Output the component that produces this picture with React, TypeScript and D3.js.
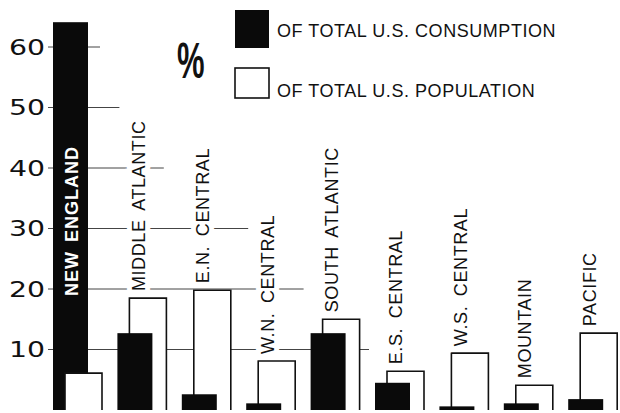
import React from "react";
import * as d3 from "d3";

const categories = [
  "NEW ENGLAND",
  "MIDDLE ATLANTIC",
  "E.N. CENTRAL",
  "W.N. CENTRAL",
  "SOUTH ATLANTIC",
  "E.S. CENTRAL",
  "W.S. CENTRAL",
  "MOUNTAIN",
  "PACIFIC",
];
const consumption = [64.1, 12.7, 2.6, 1.1, 12.7, 4.5, 0.6, 1.1, 1.8];
const population = [6.1, 18.5, 19.8, 8.1, 15.0, 6.4, 9.4, 4.1, 12.7];
const yTicks = [10, 20, 30, 40, 50, 60];
const legendLabels = ["OF TOTAL U.S. CONSUMPTION", "OF TOTAL U.S. POPULATION"];

const W = 620;
const H = 413;

export default function App() {
  const x = d3
    .scaleBand<string>()
    .domain(categories)
    .range([53, 53 + 64.4 * categories.length])
    .padding(0);
  const y = d3.scaleLinear().domain([0, 60]).range([410, 47]);

  const blackW = 35;
  const whiteOff = 12;
  const whiteW = 37;

  // right end of each gridline (styling), keyed by tick order
  const gridEnd = [
    (x(categories[5]) as number) - 6,
    (x(categories[4]) as number) - 7,
    (x(categories[3]) as number) + 2,
    (x(categories[2]) as number) - 18,
    (x(categories[1]) as number) + 2,
    (x(categories[0]) as number) + 47,
  ];

  const font = "'Liberation Sans', Arial, sans-serif";

  return (
    <svg
      width={W}
      height={H}
      style={{ position: "absolute", left: 0, top: 0, background: "#fff" }}
      fontFamily={font}
    >
      <rect x={0} y={0} width={W} height={H} fill="#fff" />
      {/* gridlines */}
      {yTicks.map((t, i) => (
        <line
          key={"g" + t}
          x1={48}
          x2={gridEnd[i]}
          y1={y(t)}
          y2={y(t)}
          stroke="#444"
          strokeWidth={1}
        />
      ))}
      {/* y tick labels */}
      {yTicks.map((t) => (
        <text
          key={"t" + t}
          transform={`translate(45,${y(t)}) scale(1.35,1)`}
          dy="0.36em"
          textAnchor="end"
          fontFamily="'DejaVu Sans', sans-serif"
          fontSize={21}
          fill="#111"
        >
          {t}
        </text>
      ))}
      {/* bars: taller drawn first, shorter in front */}
      {categories.map((c, i) => {
        const x0 = x(c) as number;
        const b = (
          <rect
            key="b"
            x={x0}
            y={y(consumption[i])}
            width={blackW}
            height={y(0) - y(consumption[i])}
            fill="#0a0a0a"
          />
        );
        const wx = x0 + whiteOff;
        const wy = y(population[i]);
        const w = (
          <g key="w">
            <rect x={wx} y={wy} width={whiteW} height={y(0) - wy} fill="#fff" />
            <path
              d={`M${wx},${y(0)}V${wy}H${wx + whiteW}V${y(0)}`}
              fill="none"
              stroke="#111"
              strokeWidth={1.6}
            />
          </g>
        );
        return (
          <g key={c}>
            {consumption[i] > population[i] ? [b, w] : [w, b]}
          </g>
        );
      })}
      {/* category labels */}
      {categories.map((c, i) => {
        const x0 = x(c) as number;
        if (i === 0) {
          return (
            <text
              key={"l" + c}
              transform={`translate(${x0 + 19},${y(0) - 114}) rotate(-90)`}
              dy="0.36em"
              fontSize={18}
              fontWeight="bold"
              letterSpacing={1}
              wordSpacing={3}
              fill="#fff"
            >
              {c}
            </text>
          );
        }
        const top = Math.max(consumption[i], population[i]);
        return (
          <text
            key={"l" + c}
            transform={`translate(${x0 + 21},${y(top) - 7}) rotate(-90)`}
            dy="0.36em"
            fontSize={18}
            letterSpacing={0.6}
            wordSpacing={4}
            fill="#111"
            stroke="#fff"
            strokeWidth={10}
            paintOrder="stroke"
          >
            {c}
          </text>
        );
      })}
      {/* percent sign */}
      <text
        transform="translate(177,78) scale(0.62,1)"
        fontSize={50}
        fontWeight="bold"
        fill="#111"
      >
        %
      </text>
      {/* legend */}
      <rect x={235} y={10} width={34} height={38} fill="#0a0a0a" />
      <rect x={235} y={68} width={34} height={30} fill="#fff" stroke="#111" strokeWidth={1.6} />
      <text x={277} y={37} fontSize={18} letterSpacing={0.55} fill="#111">
        {legendLabels[0]}
      </text>
      <text x={277} y={97} fontSize={18} letterSpacing={0.55} fill="#111">
        {legendLabels[1]}
      </text>
    </svg>
  );
}
